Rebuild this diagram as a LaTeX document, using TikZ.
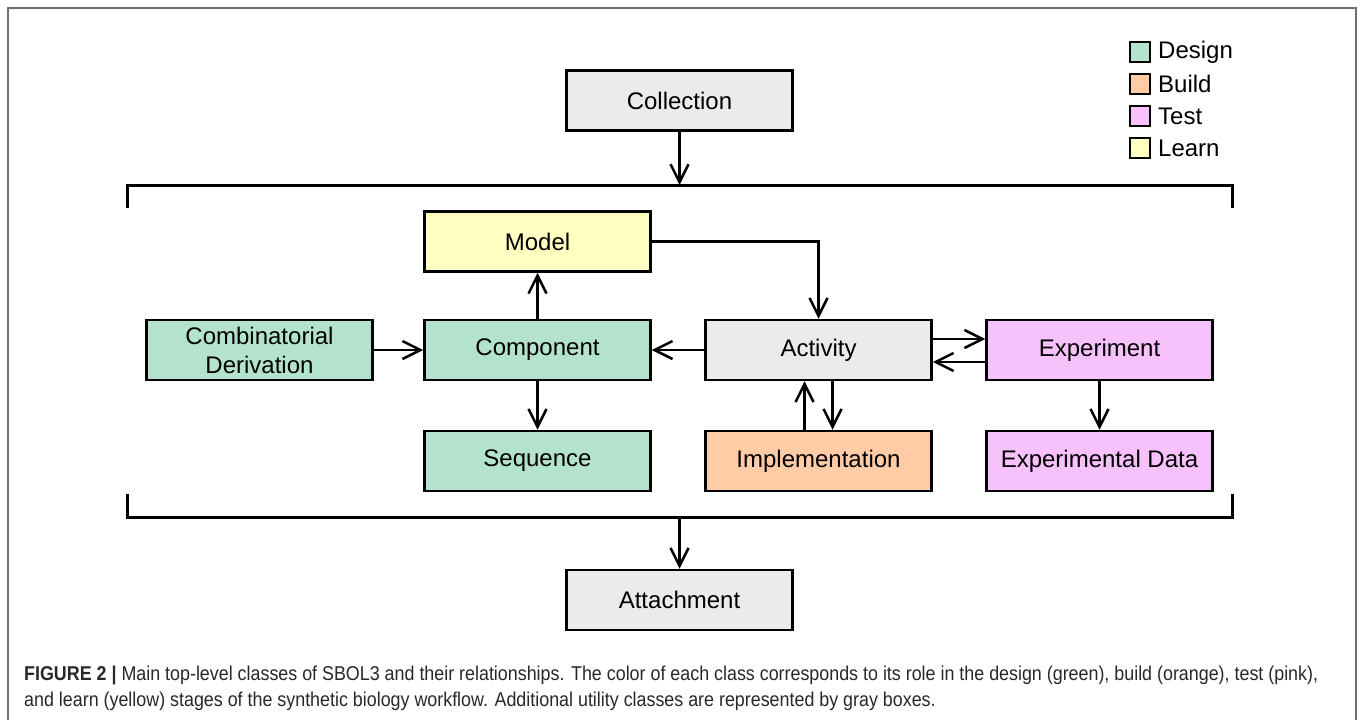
\documentclass[tikz,border=0pt]{standalone}
\usepackage{fontspec}
\setmainfont{Liberation Sans}
\usetikzlibrary{arrows.meta}
\definecolor{cgreen}{RGB}{179,227,204}
\definecolor{corange}{RGB}{255,204,166}
\definecolor{cpink}{RGB}{247,194,251}
\definecolor{cyellow}{RGB}{255,255,194}
\definecolor{cgray}{RGB}{235,235,235}
\definecolor{captext}{RGB}{40,40,40}
\definecolor{framec}{RGB}{110,110,110}
\newlength\capw
\newcommand\capfont{\fontsize{20}{24}\selectfont}
\newcommand\capone{\textbf{FIGURE 2 |} Main top-level classes of SBOL3 and their relationships. The color of each class corresponds to its role in the design (green), build (orange), test (pink),}
\newcommand\captwo{and learn (yellow) stages of the synthetic biology workflow. Additional utility classes are represented by gray boxes.}
\begin{document}
\settowidth\capw{\capfont\capone}%
\pgfmathsetmacro\capsx{1294/\capw}%
\begin{tikzpicture}[x=1pt,y=-1pt,
  box/.style={draw=black,line width=2.5pt,minimum width=226pt,minimum height=60pt,inner sep=0pt,
    font=\fontsize{24}{29}\selectfont,align=center},
  arr/.style={line width=2.5pt,-{Straight Barb[length=18pt,width=18pt]}},
  brk/.style={line width=3pt},
  leg/.style={draw=black,line width=2.5pt,minimum width=20pt,minimum height=20pt,inner sep=0pt},
  legtxt/.style={anchor=west,inner sep=0pt,font=\fontsize{24}{28}\selectfont}]
\useasboundingbox (0,0) rectangle (1360,720);
\draw[framec,line width=2pt] (8,723) -- (8,8) -- (1356,8) -- (1356,723);
% legend
\node[leg,fill=cgreen] (lg1) at (1140,52) {};
\node[leg,fill=corange] (lg2) at (1140,84) {};
\node[leg,fill=cpink] (lg3) at (1140,116) {};
\node[leg,fill=cyellow] (lg4) at (1140,148) {};
\node[legtxt] (lt1) at (1158,52) {Design};
\node[legtxt] (lt2) at (1158,84) {Build};
\node[legtxt] (lt3) at (1158,116) {Test};
\node[legtxt] (lt4) at (1158,148) {Learn};
% boxes
\node[box,fill=cgray] (coll) at (679.5,100.5) {Collection};
\node[box,fill=cyellow] (model) at (537.5,241.5) {Model};
\node[box,fill=cgreen] (combi) at (259.5,350) {Combinatorial\\Derivation};
\node[box,fill=cgreen] (comp) at (537.5,350) {Component};
\node[box,fill=cgray] (act) at (818.5,350) {Activity};
\node[box,fill=cpink] (exp) at (1099.5,350) {Experiment};
\node[box,fill=cgreen] (seq) at (537.5,461) {Sequence};
\node[box,fill=corange] (impl) at (818.5,461) {Implementation};
\node[box,fill=cpink] (expd) at (1099.5,461) {Experimental Data};
\node[box,fill=cgray] (att) at (679.5,600) {Attachment};
% brackets
\coordinate (btop) at (679.5,185);
\coordinate (bbot) at (679.5,517);
\draw[brk] (127,208) -- (127,185) -- (1232,185) -- (1232,208);
\draw[brk] (127,494) -- (127,517) -- (1232,517) -- (1232,494);
% connectors
\draw[arr] (coll.south) -- (btop);
\draw[arr] (bbot) -- (att.north);
\draw[arr] (comp.north) -- (model.south);
\draw[arr] (model.east) -| (act.north);
\draw[arr] (combi.east) -- (comp.west);
\draw[arr] (act.west) -- (comp.east);
\draw[arr] ([yshift=11pt]act.east) -- ([yshift=11pt]exp.west);
\draw[arr] ([yshift=-12pt]exp.west) -- ([yshift=-12pt]act.east);
\draw[arr] ([xshift=-14pt]impl.north) -- ([xshift=-14pt]act.south);
\draw[arr] ([xshift=14pt]act.south) -- ([xshift=14pt]impl.north);
\draw[arr] (comp.south) -- (seq.north);
\draw[arr] (exp.south) -- (expd.north);
% caption
\node[anchor=base west,inner sep=0pt,text=captext] (cap1) at (24,680) {\scalebox{\capsx}[1]{\capfont\capone}};
\node[anchor=base west,inner sep=0pt,text=captext] (cap2) at (24,706) {\scalebox{\capsx}[1]{\capfont\captwo}};
\end{tikzpicture}
\end{document}
